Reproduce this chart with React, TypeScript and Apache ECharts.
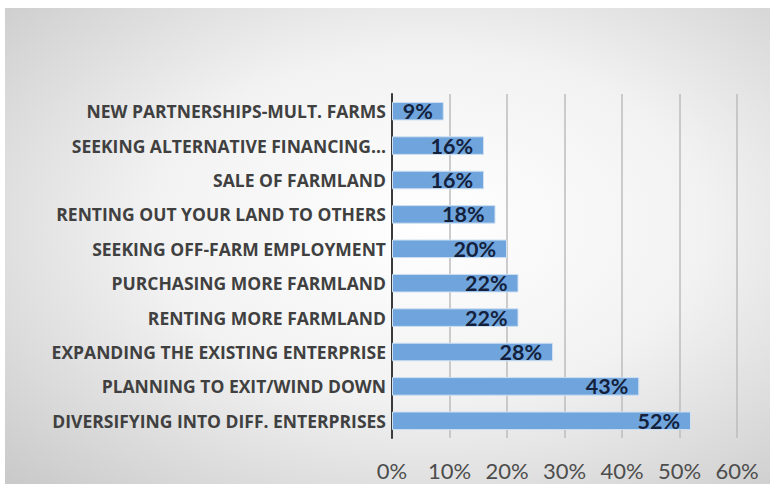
import React, { useEffect, useRef } from "react";
import * as echarts from "echarts";

const categories = [
  "DIVERSIFYING INTO DIFF. ENTERPRISES",
  "PLANNING TO EXIT/WIND DOWN",
  "EXPANDING THE EXISTING ENTERPRISE",
  "RENTING MORE FARMLAND",
  "PURCHASING MORE FARMLAND",
  "SEEKING OFF-FARM EMPLOYMENT",
  "RENTING OUT YOUR LAND TO OTHERS",
  "SALE OF FARMLAND",
  "SEEKING ALTERNATIVE FINANCING...",
  "NEW PARTNERSHIPS-MULT. FARMS",
];
const values = [52, 43, 28, 22, 22, 20, 18, 16, 16, 9];
const xTicks = [0, 10, 20, 30, 40, 50, 60];

export default function App() {
  const ref = useRef<HTMLDivElement>(null);
  useEffect(() => {
    if (!ref.current) return;
    const chart = echarts.init(ref.current, null, { renderer: "svg" });
    chart.setOption({
      animation: false,
      graphic: [
        {
          type: "rect",
          z: -10,
          shape: { x: 5, y: 8, width: 770, height: 480 },
          style: {
            fill: new echarts.graphic.RadialGradient(0.55, 0.45, 0.8, [
              { offset: 0, color: "#ffffff" },
              { offset: 0.45, color: "#f2f2f2" },
              { offset: 1, color: "#c6c6c6" },
            ]),
          },
          silent: true,
        },
      ],
      grid: { left: 392, right: 33, top: 94, bottom: 46 },
      xAxis: {
        type: "value",
        min: xTicks[0],
        max: xTicks[xTicks.length - 1],
        interval: 10,
        axisLine: { show: false },
        axisTick: { show: false },
        splitLine: { show: true, lineStyle: { color: "#bdbdbd", width: 1.5 } },
        axisLabel: {
          formatter: (v: number) => v + "%",
          fontFamily: "Lato",
          fontSize: 22,
          color: "#4d4d4d",
          margin: 21,
        },
      },
      yAxis: {
        type: "category",
        data: categories,
        axisLine: { show: true, lineStyle: { color: "#3a3a3a", width: 2 } },
        axisTick: { show: false },
        axisLabel: {
          fontFamily: "Open Sans",
          fontWeight: "bold",
          fontSize: 17.5,
          color: "#404040",
          margin: 6,
        },
      },
      series: [
        {
          type: "bar",
          data: values,
          barWidth: "54%",
          itemStyle: { color: "#6fa5dc", borderColor: "#cfe0f2", borderWidth: 1 },
          label: {
            show: true,
            position: "insideRight",
            distance: 11,
            formatter: (p: any) => p.value + "%",
            fontFamily: "Lato",
            fontWeight: "bold",
            fontSize: 21.5,
            color: "#14213d",
          },
        },
      ],
    });
    return () => chart.dispose();
  }, []);
  return (
    <div
      ref={ref}
      style={{ position: "fixed", left: 0, top: 0, width: 770, height: 484, background: "#ffffff" }}
    />
  );
}
